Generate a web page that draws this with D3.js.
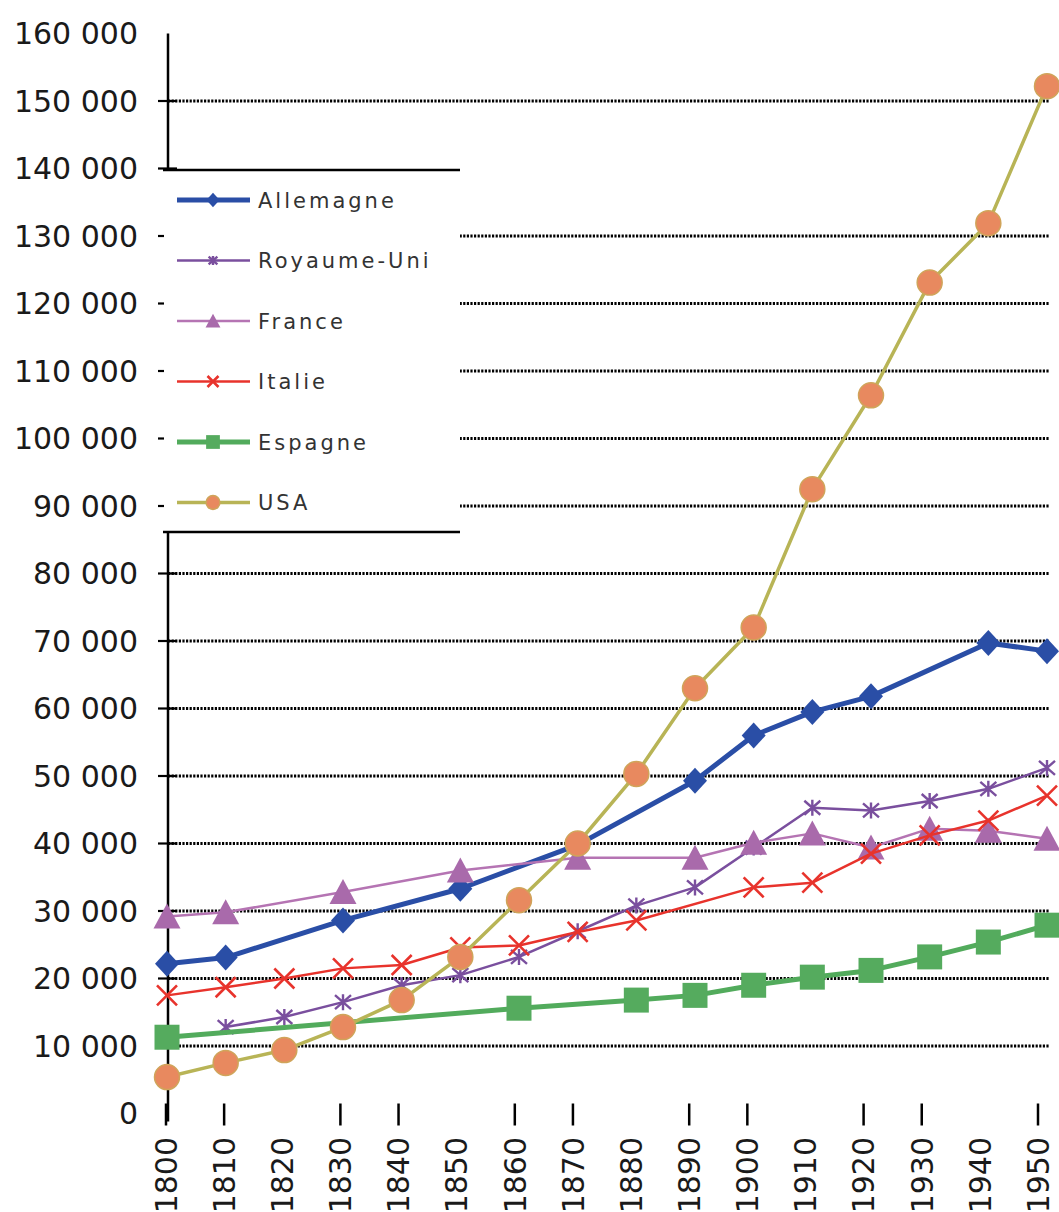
<!DOCTYPE html>
<html>
<head>
<meta charset="utf-8">
<script src="https://cdn.jsdelivr.net/npm/d3@7"></script>
<style>
  html, body { margin: 0; padding: 0; background: #fff; }
  svg { display: block; }
</style>
</head>
<body>
<svg id="chart" width="1059" height="1212"></svg>
<script>
// GDP by country, 1800–1950 (decade points; null = no value that decade)
const years = [1800, 1810, 1820, 1830, 1840, 1850, 1860, 1870, 1880, 1890, 1900, 1910, 1920, 1930, 1940, 1950];
const allemagne  = [22200, 23100, null, 28600, null, 33300, null, 39800, null, 49300, 56000, 59500, 61800, null, 69700, 68500];
const royaumeUni = [null, 12800, 14300, 16500, 19000, 20500, 23200, 27000, 30800, 33500, 39400, 45300, 44900, 46300, 48100, 51200];
const france     = [29200, 29800, null, 32800, null, 36000, null, 37900, null, 37900, 40100, 41500, 39400, 42200, 41900, 40700];
const italie     = [17500, 18700, 20000, 21500, 22000, 24600, 24900, 26900, 28600, null, 33500, 34200, 38500, 41200, 43400, 47100];
const espagne    = [11300, null, null, null, null, null, 15600, null, 16800, 17500, 19000, 20200, 21200, 23200, 25400, 27900];
const usa        = [5400, 7500, 9400, 12800, 16800, 23200, 31600, 40000, 50300, 63000, 72000, 92500, 106400, 123100, 131900, 152200];

const seriesNames = ["Allemagne", "Royaume-Uni", "France", "Italie", "Espagne", "USA"];
const seriesValues = [allemagne, royaumeUni, france, italie, espagne, usa];

// axis ticks
const yTickValues = [0, 10000, 20000, 30000, 40000, 50000, 60000, 70000, 80000, 90000, 100000, 110000, 120000, 130000, 140000, 150000, 160000];
const gridValues = [10000, 20000, 30000, 40000, 50000, 60000, 70000, 80000, 90000, 100000, 110000, 120000, 130000, 150000];
const xTickMarkYears = [1800, 1810, 1830, 1840, 1860, 1870, 1890, 1900, 1920, 1930, 1950];

// series styling
const styles = {
  "Allemagne":   { color: "#2a4ea6", width: 5,   marker: "diamond", fill: "#2a4ea6" },
  "Royaume-Uni": { color: "#7a4f9e", width: 2.5, marker: "star",    fill: "none" },
  "France":      { color: "#b574b3", width: 2.5, marker: "triangle", fill: "#a96aab" },
  "Italie":      { color: "#e8332c", width: 2.5, marker: "x",       fill: "none" },
  "Espagne":     { color: "#52ab5c", width: 5,   marker: "square",  fill: "#55ab5e" },
  "USA":         { color: "#b8b456", width: 3.5, marker: "circle",  fill: "#e8895f" }
};

const svg = d3.select("#chart");
const fmt = v => d3.format(",")(v).replace(/,/g, " ");

// data positions
const x = d3.scaleLinear().domain([1800, 1950]).range([167, 1047]);
// category axis positions (ticks and labels)
const xAxisScale = d3.scaleLinear().domain([1800, 1950]).range([166, 1038]);
const y = d3.scaleLinear().domain([0, 160000]).range([1113.5, 33.5]);

const axisX = 168;
const gridRight = 1050;
const labelFont = "DejaVu Sans, Verdana, sans-serif";

// dotted gridlines
svg.append("g").selectAll("line").data(gridValues).join("line")
  .attr("x1", axisX).attr("x2", gridRight)
  .attr("y1", d => y(d)).attr("y2", d => y(d))
  .attr("stroke", "#000").attr("stroke-width", 3)
  .attr("stroke-dasharray", "2.2,1.4");

// vertical axis with tick marks crossing it
svg.append("line")
  .attr("x1", axisX).attr("x2", axisX)
  .attr("y1", y(160000)).attr("y2", y(0) + 8)
  .attr("stroke", "#000").attr("stroke-width", 2.5);

svg.append("g").selectAll("line").data(gridValues.concat([140000])).join("line")
  .attr("x1", axisX - 10).attr("x2", axisX + 9)
  .attr("y1", d => y(d)).attr("y2", d => y(d))
  .attr("stroke", "#000").attr("stroke-width", 2.2);

// y tick labels
svg.append("g").selectAll("text").data(yTickValues).join("text")
  .attr("x", 138).attr("y", d => y(d))
  .attr("dy", "0.36em")
  .attr("text-anchor", "end")
  .attr("font-family", labelFont).attr("font-size", 30)
  .attr("fill", "#1a1a1a")
  .text(d => fmt(d));

// x tick marks
svg.append("g").selectAll("line").data(xTickMarkYears).join("line")
  .attr("x1", d => xAxisScale(d)).attr("x2", d => xAxisScale(d))
  .attr("y1", y(0) - 10).attr("y2", y(0) + 12)
  .attr("stroke", "#000").attr("stroke-width", 2.5);

// x tick labels (rotated)
svg.append("g").selectAll("text").data(years).join("text")
  .attr("transform", d => `translate(${xAxisScale(d)},1137) rotate(-90)`)
  .attr("dy", "0.36em")
  .attr("text-anchor", "end")
  .attr("font-family", labelFont).attr("font-size", 30)
  .attr("fill", "#1a1a1a")
  .text(d => d);

// marker shapes
function markerPath(kind, s) {
  switch (kind) {
    case "diamond":  return `M0,${-13*s}L${12*s},0L0,${13*s}L${-12*s},0Z`;
    case "square":   return `M${-12.5*s},${-12.5*s}h${25*s}v${25*s}h${-25*s}Z`;
    case "triangle": return `M0,${-13*s}L${13.5*s},${12*s}L${-13.5*s},${12*s}Z`;
    case "x":        return `M${-10*s},${-10*s}L${10*s},${10*s}M${-10*s},${10*s}L${10*s},${-10*s}`;
    case "star":     return `M${-8*s},${-7*s}L${8*s},${7*s}M${-8*s},${7*s}L${8*s},${-7*s}M0,${-8*s}L0,${8*s}`;
    case "circle":   return d3.symbol(d3.symbolCircle, Math.PI * Math.pow(12.5 * s, 2))();
  }
}

function drawMarker(g, kind, st, s) {
  const p = g.append("path").attr("d", markerPath(kind, s));
  if (kind === "x" || kind === "star") {
    p.attr("fill", "none").attr("stroke", st.color).attr("stroke-width", kind === "x" ? 2.6 : 2.4);
  } else if (kind === "circle") {
    p.attr("fill", st.fill).attr("stroke", "#d0a45a").attr("stroke-width", 1.5);
  } else {
    p.attr("fill", st.fill);
  }
}

const line = d3.line().x(d => x(d.year)).y(d => y(d.value));

// series lines and markers (drawn in order, USA on top)
seriesNames.forEach((name, i) => {
  const st = styles[name];
  const pts = years.map((yr, j) => ({ year: yr, value: seriesValues[i][j] }))
    .filter(d => d.value !== null);
  const g = svg.append("g");
  g.append("path").datum(pts)
    .attr("d", line)
    .attr("fill", "none")
    .attr("stroke", st.color)
    .attr("stroke-width", st.width)
    .attr("stroke-linejoin", "round");
  pts.forEach(d => {
    const mg = g.append("g").attr("transform", `translate(${x(d.year)},${y(d.value)})`);
    drawMarker(mg, st.marker, st, 1);
  });
});

// legend
const legend = svg.append("g");
legend.append("rect")
  .attr("x", 164).attr("y", 171).attr("width", 296).attr("height", 361)
  .attr("fill", "#fff");
legend.append("line").attr("x1", 163).attr("x2", 460).attr("y1", 170).attr("y2", 170)
  .attr("stroke", "#000").attr("stroke-width", 2.5);
legend.append("line").attr("x1", 163).attr("x2", 460).attr("y1", 532).attr("y2", 532)
  .attr("stroke", "#000").attr("stroke-width", 2.5);

seriesNames.forEach((name, i) => {
  const st = styles[name];
  const ly = 200 + i * 60.5;
  const row = legend.append("g").attr("transform", `translate(0,${ly})`);
  row.append("line").attr("x1", 177).attr("x2", 250).attr("y1", 0).attr("y2", 0)
    .attr("stroke", st.color).attr("stroke-width", st.width);
  const mg = row.append("g").attr("transform", "translate(213,0)");
  drawMarker(mg, st.marker, st, 0.55);
  row.append("text")
    .attr("x", 258).attr("y", 0).attr("dy", "0.36em")
    .attr("font-family", labelFont).attr("font-size", 21)
    .attr("letter-spacing", 3)
    .attr("fill", "#333")
    .text(name);
});
</script>
</body>
</html>
